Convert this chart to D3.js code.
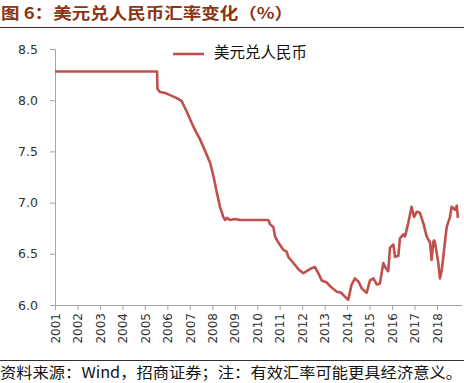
<!DOCTYPE html>
<html><head><meta charset="utf-8">
<script src="https://cdn.jsdelivr.net/npm/d3@7"></script>
<style>body{margin:0;background:#fff;}svg{display:block;}</style>
</head><body>
<svg id="c" width="464" height="383"></svg>
<script>
const titleText = "图 6：美元兑人民币汇率变化（%）";
const seriesName = "美元兑人民币";
const sourceText = "资料来源：Wind，招商证券；注：有效汇率可能更具经济意义。";
const yTicks = [6.0, 6.5, 7.0, 7.5, 8.0, 8.5];
const xTickYears = [2001,2002,2003,2004,2005,2006,2007,2008,2009,2010,2011,2012,2013,2014,2015,2016,2017,2018];
const dates = [2001.00,2005.54,2005.56,2005.67,2005.90,2006.12,2006.42,2006.64,2006.86,2007.08,2007.23,2007.45,2007.67,2007.90,2008.05,2008.20,2008.34,2008.49,2008.57,2008.65,2008.79,2009.01,2009.23,2009.53,2009.90,2010.21,2010.49,2010.57,2010.72,2010.79,2010.94,2011.16,2011.31,2011.38,2011.61,2011.83,2012.05,2012.20,2012.42,2012.57,2012.72,2012.87,2013.09,2013.31,2013.54,2013.73,2013.91,2014.05,2014.20,2014.35,2014.50,2014.66,2014.87,2015.02,2015.17,2015.32,2015.46,2015.61,2015.69,2015.83,2015.91,2016.06,2016.13,2016.28,2016.35,2016.50,2016.58,2016.72,2016.87,2016.98,2017.10,2017.24,2017.39,2017.54,2017.69,2017.76,2017.84,2017.87,2017.91,2018.06,2018.13,2018.21,2018.28,2018.43,2018.58,2018.65,2018.80,2018.88,2018.93,2018.99];
const rates = [8.28,8.28,8.11,8.08,8.07,8.05,8.02,7.99,7.89,7.78,7.71,7.62,7.51,7.39,7.26,7.10,6.96,6.86,6.83,6.85,6.83,6.84,6.83,6.83,6.83,6.83,6.83,6.79,6.76,6.67,6.61,6.54,6.52,6.47,6.41,6.35,6.31,6.33,6.36,6.37,6.31,6.24,6.22,6.17,6.13,6.12,6.08,6.05,6.20,6.26,6.23,6.16,6.12,6.24,6.26,6.20,6.21,6.41,6.37,6.33,6.56,6.59,6.47,6.48,6.65,6.69,6.67,6.80,6.96,6.86,6.91,6.90,6.80,6.67,6.61,6.44,6.62,6.63,6.61,6.41,6.26,6.34,6.47,6.76,6.86,6.96,6.93,6.97,6.85];

const svg = d3.select("#c");
const brown = "#8b3514";
const axisCol = "#a6a6a6";

// title
svg.append("text").attr("x", 1).attr("y", 19)
  .attr("font-family", "'Noto Sans CJK SC', sans-serif").attr("font-weight", "bold")
  .attr("font-size", 16).attr("fill", brown).attr("textLength", 292).attr("lengthAdjust","spacingAndGlyphs")
  .text(titleText);
svg.append("line").attr("x1", 0).attr("x2", 464).attr("y1", 27.5).attr("y2", 27.5)
  .attr("stroke", "#6e2a12").attr("stroke-width", 1.2);

const x = d3.scaleLinear().domain([2001, 2018]).range([55, 437]);
const y = d3.scaleLinear().domain([6.0, 8.5]).range([305, 49]);

// y axis
const yAxis = svg.append("g").attr("transform", "translate(55,0)")
  .call(d3.axisLeft(y).tickValues(yTicks).tickFormat(d3.format(".1f")).tickSizeOuter(0).tickSize(5));
yAxis.select(".domain").attr("stroke", axisCol);
yAxis.selectAll(".tick line").attr("stroke", axisCol);
yAxis.selectAll("text").attr("font-family", "'DejaVu Sans', sans-serif").attr("font-size", 12.5)
  .attr("fill", "#333").attr("x", -17);

// x axis
const xAxis = svg.append("g").attr("transform", "translate(0,305)")
  .call(d3.axisBottom(x).tickValues(xTickYears).tickFormat(d3.format("d")).tickSizeOuter(0).tickSize(5));
xAxis.select(".domain").attr("d", "M55,0.5H462").attr("stroke", axisCol);
xAxis.selectAll(".tick line").attr("stroke", axisCol);
xAxis.selectAll("text").attr("font-family", "'DejaVu Sans', sans-serif").attr("font-size", 12)
  .attr("fill", "#333").attr("transform", "rotate(-90)").attr("text-anchor", "end")
  .attr("x", -8).attr("y", 0).attr("dy", "0.35em");

// line
const pts = dates.map((d, i) => [d, rates[i]]);
svg.append("path").datum(pts)
  .attr("fill", "none").attr("stroke", "#c0504d").attr("stroke-width", 2.6)
  .attr("stroke-linejoin", "round")
  .attr("d", d3.line().x(d => x(d[0])).y(d => y(d[1])));

// legend
svg.append("line").attr("x1", 173).attr("x2", 204).attr("y1", 54).attr("y2", 54)
  .attr("stroke", "#c0504d").attr("stroke-width", 2.6);
svg.append("text").attr("x", 214).attr("y", 58)
  .attr("font-family", "'Noto Sans CJK SC', sans-serif").attr("font-size", 15.5).attr("fill", "#111")
  .text(seriesName);

// footer
svg.append("line").attr("x1", 0).attr("x2", 464).attr("y1", 360.5).attr("y2", 360.5)
  .attr("stroke", "#333").attr("stroke-width", 1);
svg.append("text").attr("x", 0).attr("y", 378)
  .attr("font-family", "'Noto Sans CJK SC', sans-serif").attr("font-size", 15).attr("fill", "#111")
  .attr("textLength", 462).attr("lengthAdjust", "spacingAndGlyphs")
  .text(sourceText);
</script>
</body></html>
